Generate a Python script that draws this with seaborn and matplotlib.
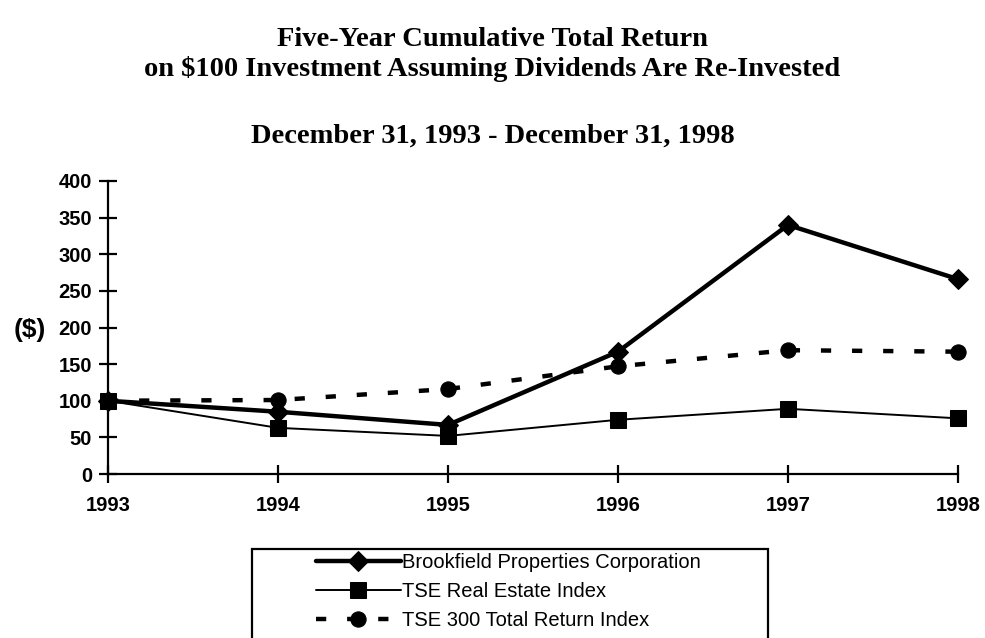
import pandas as pd
import matplotlib.pyplot as plt
from matplotlib.patches import Rectangle
import seaborn as sns

# values
years = [1993, 1994, 1995, 1996, 1997, 1998]
brookfield = [100, 85, 67, 167, 340, 266]
tse_real_estate = [100, 63, 52, 74, 89, 76]
tse_300 = [100, 101, 116, 147, 169, 167]

yticks = [0, 50, 100, 150, 200, 250, 300, 350, 400]

sns.set_theme(style="white")
plt.rcParams['font.family'] = ['Liberation Sans', 'DejaVu Sans']
plt.rcParams['text.color'] = 'black'
plt.rcParams['xtick.color'] = 'black'
plt.rcParams['ytick.color'] = 'black'
plt.rcParams['axes.labelcolor'] = 'black'

fig = plt.figure(figsize=(9.85, 6.38), dpi=100)
ax = fig.add_axes([108 / 985, 1 - 474 / 638, 850 / 985, 293 / 638])

frame = pd.DataFrame({"year": years, "brook": brookfield,
                      "tsere": tse_real_estate, "tse300": tse_300})

sns.lineplot(frame, x="year", y="brook", ax=ax, color="black", linewidth=3.2,
             marker="D", markersize=10, markeredgecolor="black", clip_on=False,
             label="Brookfield Properties Corporation")
sns.lineplot(frame, x="year", y="tsere", ax=ax, color="black", linewidth=1.4,
             marker="s", markersize=12, markeredgecolor="black", clip_on=False,
             label="TSE Real Estate Index")
sns.lineplot(frame, x="year", y="tse300", ax=ax, color="black", linewidth=3.2,
             linestyle=(0, (2.3, 4.7)), marker="o", markersize=11,
             markeredgecolor="black", clip_on=False,
             label="TSE 300 Total Return Index")

ax.set_xlim(years[0], years[-1])
ax.set_ylim(0, 400)
ax.set_xticks(years)
ax.set_yticks(yticks)
ax.set_xticklabels([str(y) for y in years], fontsize=14.5, fontweight="bold")
ax.set_yticklabels([str(t) for t in yticks], fontsize=14.5, fontweight="bold")
ax.tick_params(axis="both", direction="inout", length=13, width=1.6,
               color="black", left=True, bottom=True)
ax.tick_params(axis="y", pad=5)
ax.tick_params(axis="x", pad=9)
for side in ["top", "right"]:
    ax.spines[side].set_visible(False)
for side in ["left", "bottom"]:
    ax.spines[side].set_color("black")
    ax.spines[side].set_linewidth(1.6)
ax.set_xlabel("")
ax.set_ylabel("")
fig.text(30 / 985, 1 - 330 / 638, "($)", fontsize=19, fontweight="bold",
         ha="center", va="center")

fig.text(0.5, 1 - 40 / 638, "Five-Year Cumulative Total Return",
         family="Liberation Serif", fontsize=20.5, fontweight="bold",
         ha="center", va="center")
fig.text(0.5, 1 - 69 / 638,
         "on $100 Investment Assuming Dividends Are Re-Invested",
         family="Liberation Serif", fontsize=20.5, fontweight="bold",
         ha="center", va="center")
fig.text(0.5, 1 - 136 / 638, "December 31, 1993 - December 31, 1998",
         family="Liberation Serif", fontsize=20.5, fontweight="bold",
         ha="center", va="center")

# legend without its own frame, box drawn separately so it can be wide
leg = ax.legend(loc="upper left", bbox_to_anchor=(316 / 985, 1 - 553 / 638),
                bbox_transform=fig.transFigure, frameon=False,
                fontsize=14.5, handlelength=4.2, handletextpad=0.05,
                borderpad=0, labelspacing=0.5, borderaxespad=0)
fig.patches.append(Rectangle((252 / 985, -0.01), (768 - 252) / 985,
                             1 - 549 / 638 + 0.01, transform=fig.transFigure,
                             fill=False, edgecolor="black", linewidth=1.6))

fig.savefig("out.png", dpi=100)
